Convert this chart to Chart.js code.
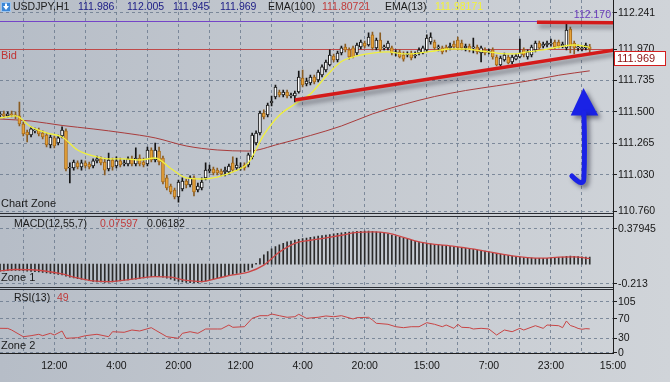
<!DOCTYPE html>
<html><head><meta charset="utf-8">
<script src="https://cdn.jsdelivr.net/npm/chart.js@4.4.1/dist/chart.umd.min.js"></script>
<style>
html,body{margin:0;padding:0;}
body{width:670px;height:382px;overflow:hidden;background:linear-gradient(to right,#b6bdc7 0%,#c3c8cf 45%,#d0d4d9 100%);}
#c{display:block;}
</style></head><body>
<canvas id="c" width="670" height="382"></canvas>
<script>
// ---------- DATA (USDJPY H1) ----------
const openP = [
111.477,111.485,111.470,111.485,111.477,111.470,111.410,111.350,111.328,111.358,
111.365,111.343,111.328,111.253,111.306,111.268,111.320,111.358,111.081,111.081,
111.119,111.089,111.119,111.111,111.096,111.134,111.149,111.126,111.074,111.141,
111.096,111.134,111.111,111.111,111.149,111.111,111.156,111.126,111.111,111.216,
111.141,111.208,111.156,111.007,110.947,110.917,110.865,110.925,110.984,110.954,
111.007,110.917,110.932,111.007,111.059,111.074,111.066,111.059,111.052,111.052,
111.119,111.081,111.081,111.104,111.104,111.164,111.268,111.343,111.492,111.477,
111.567,111.612,111.649,111.627,111.649,111.619,111.619,111.649,111.753,111.709,
111.716,111.761,111.739,111.776,111.813,111.851,111.918,111.888,111.940,111.985,
111.963,111.978,111.940,111.985,112.015,112.000,112.075,111.978,112.037,111.978,
111.978,111.978,111.940,111.948,111.925,111.925,111.940,111.918,111.940,111.940,
111.963,112.022,112.022,111.978,111.978,111.985,111.978,112.007,112.037,112.015,
111.978,111.992,111.978,111.985,111.940,111.963,111.948,111.963,111.910,111.851,
111.888,111.910,111.873,111.895,111.910,111.963,111.910,111.925,111.963,112.015,
111.992,112.000,112.007,112.022,112.022,111.992,111.978,112.119,112.015,111.978,
111.970,111.978,111.986];
const highP = [
111.500,111.507,111.500,111.507,111.500,111.574,111.425,111.365,111.388,111.380,
111.380,111.358,111.343,111.328,111.320,111.328,111.388,111.373,111.119,111.141,
111.134,111.141,111.134,111.126,111.149,111.171,111.164,111.156,111.193,111.156,
111.164,111.156,111.141,111.164,111.171,111.231,111.179,111.156,111.238,111.231,
111.268,111.238,111.171,111.029,110.962,110.932,110.992,111.007,110.999,111.022,
111.022,110.969,111.007,111.119,111.104,111.089,111.081,111.074,111.089,111.111,
111.164,111.156,111.119,111.119,111.193,111.343,111.358,111.507,111.515,111.567,
111.619,111.701,111.664,111.664,111.664,111.641,111.656,111.806,111.813,111.753,
111.776,111.776,111.813,111.851,111.888,111.963,111.933,111.955,111.992,112.007,
111.978,111.992,112.015,112.037,112.030,112.090,112.097,112.052,112.090,112.000,
112.030,111.992,111.963,111.963,111.948,111.948,111.955,111.948,111.978,111.992,
112.075,112.090,112.037,112.000,111.992,112.000,112.015,112.030,112.060,112.037,
112.007,112.007,112.052,112.000,111.992,111.978,111.970,111.978,111.925,111.918,
111.940,111.925,111.925,111.933,112.045,111.978,111.963,112.000,112.030,112.030,
112.022,112.030,112.045,112.037,112.037,112.022,112.170,112.134,112.030,112.000,
111.992,112.015,112.005];
const lowP = [
111.462,111.455,111.462,111.462,111.447,111.395,111.320,111.276,111.313,111.343,
111.320,111.298,111.238,111.231,111.231,111.253,111.306,111.059,110.969,111.066,
111.074,111.066,111.081,111.074,111.081,111.119,111.104,111.029,111.059,111.066,
111.081,111.089,111.096,111.096,111.096,111.096,111.096,111.089,111.096,111.126,
111.126,111.104,110.962,110.917,110.887,110.850,110.827,110.910,110.932,110.940,
110.872,110.902,110.917,110.992,111.044,111.029,111.029,111.022,111.022,111.037,
111.052,111.066,111.066,111.066,111.089,111.149,111.253,111.328,111.447,111.462,
111.544,111.597,111.612,111.612,111.604,111.604,111.574,111.641,111.686,111.694,
111.701,111.709,111.724,111.761,111.798,111.843,111.873,111.873,111.925,111.948,
111.895,111.903,111.925,111.970,111.978,111.992,111.963,111.963,111.948,111.963,
111.963,111.925,111.918,111.903,111.880,111.910,111.888,111.903,111.925,111.933,
111.948,112.007,111.963,111.955,111.933,111.948,111.963,111.970,111.963,111.963,
111.955,111.948,111.940,111.933,111.873,111.925,111.933,111.895,111.843,111.843,
111.880,111.858,111.858,111.888,111.903,111.910,111.895,111.910,111.948,111.963,
111.978,111.985,111.992,111.970,111.978,111.978,111.963,111.940,111.933,111.955,
111.955,111.963,111.945];
const closeP = [
111.485,111.470,111.485,111.477,111.470,111.410,111.335,111.328,111.373,111.365,
111.335,111.313,111.253,111.313,111.246,111.306,111.365,111.074,111.089,111.126,
111.089,111.119,111.096,111.089,111.134,111.149,111.119,111.066,111.141,111.089,
111.134,111.104,111.119,111.149,111.111,111.156,111.111,111.104,111.216,111.141,
111.216,111.126,110.977,110.932,110.902,110.865,110.977,110.984,110.954,111.007,
110.902,110.947,110.977,111.066,111.074,111.044,111.044,111.037,111.066,111.096,
111.066,111.104,111.089,111.081,111.179,111.328,111.343,111.492,111.462,111.552,
111.582,111.686,111.627,111.649,111.619,111.627,111.641,111.761,111.701,111.731,
111.761,111.724,111.798,111.836,111.873,111.925,111.888,111.940,111.978,111.963,
111.910,111.910,112.000,112.022,111.992,112.060,111.978,112.037,111.963,111.985,
112.015,111.940,111.948,111.910,111.895,111.933,111.903,111.925,111.963,111.978,
112.052,112.060,111.978,111.985,111.948,111.963,111.992,111.985,111.978,111.978,
111.992,111.963,111.985,111.948,111.978,111.940,111.955,111.910,111.851,111.903,
111.925,111.866,111.910,111.918,111.940,111.925,111.948,111.985,112.015,111.978,
112.007,112.015,112.015,111.985,111.992,112.007,112.112,111.992,111.978,111.985,
111.978,112.000,111.969];

const ema13Idx = [0,4,8,12,16,20,24,28,32,36,40,44,48,52,56,60,64,68,72,76,80,84,88,92,96,100,104,108,112,116,120,124,128,132,136,140,144,148,152];
const ema13 = [111.455,111.470,111.388,111.343,111.313,111.216,111.171,111.149,111.149,111.141,111.156,111.078,111.007,110.999,111.014,111.052,111.119,111.328,111.475,111.559,111.634,111.765,111.877,111.918,111.940,111.948,111.933,111.940,111.955,111.970,111.970,111.955,111.940,111.933,111.948,111.963,111.985,112.000,111.982];

const ema100Idx = [0,8,16,24,32,40,48,56,64,72,80,88,96,104,112,120,128,136,144,152];
const ema100 = [111.447,111.432,111.399,111.373,111.343,111.306,111.246,111.216,111.208,111.261,111.324,111.395,111.485,111.556,111.615,111.660,111.695,111.731,111.774,111.807];

const macdMain = [
-0.075,-0.072,-0.070,-0.068,-0.066,-0.066,-0.070,-0.075,-0.078,-0.080,
-0.083,-0.088,-0.095,-0.100,-0.105,-0.110,-0.115,-0.130,-0.140,-0.148,
-0.155,-0.162,-0.170,-0.178,-0.185,-0.190,-0.192,-0.195,-0.193,-0.190,
-0.186,-0.180,-0.175,-0.170,-0.165,-0.160,-0.155,-0.148,-0.140,-0.135,
-0.130,-0.130,-0.140,-0.150,-0.160,-0.175,-0.185,-0.190,-0.195,-0.200,
-0.200,-0.198,-0.190,-0.180,-0.170,-0.160,-0.150,-0.140,-0.130,-0.120,
-0.110,-0.100,-0.090,-0.080,-0.065,-0.035,0.010,0.060,0.100,0.135,
0.165,0.190,0.210,0.225,0.240,0.250,0.260,0.268,0.275,0.282,
0.290,0.296,0.302,0.308,0.314,0.320,0.326,0.332,0.338,0.343,
0.347,0.350,0.353,0.355,0.356,0.356,0.354,0.350,0.344,0.336,
0.326,0.314,0.302,0.290,0.280,0.270,0.258,0.247,0.238,0.232,
0.226,0.220,0.214,0.208,0.203,0.198,0.193,0.188,0.182,0.176,
0.170,0.165,0.160,0.153,0.146,0.140,0.133,0.126,0.118,0.110,
0.102,0.095,0.088,0.082,0.077,0.072,0.068,0.065,0.063,0.062,
0.062,0.063,0.065,0.068,0.072,0.076,0.085,0.088,0.085,0.082,
0.080,0.078,0.076];
const signalIdx = [0,4,8,12,16,20,24,28,32,36,40,44,48,52,56,60,64,68,72,76,80,84,88,92,96,100,104,108,112,116,120,124,128,132,136,140,144,148,152];
const macdSignal = [-0.073,-0.057,-0.060,-0.076,-0.105,-0.148,-0.180,-0.188,-0.172,-0.150,-0.133,-0.140,-0.175,-0.187,-0.152,-0.116,-0.085,-0.010,0.130,0.225,0.258,0.284,0.312,0.343,0.349,0.335,0.290,0.240,0.214,0.198,0.175,0.149,0.118,0.090,0.071,0.065,0.076,0.079,0.062];

const rsiIdx = [0,2,3,6,8,10,11,13,14,16,17,20,22,25,28,29,32,34,36,39,40,43,46,47,49,51,53,56,57,59,60,63,65,67,69,70,72,74,76,77,79,82,84,86,88,91,92,95,96,97,100,102,104,106,108,110,112,114,115,117,118,119,121,122,124,126,128,130,132,134,135,138,140,141,144,145,146,147,148,149,150,151,152];
const rsiVal = [50.2,50,46.7,32.9,35,37.9,35,39.9,36.4,44.7,29.6,30.9,35,37.9,32.9,43.2,42,46.7,44.7,51.5,46.7,32.9,29.6,39.9,43.2,39.9,48.8,48.8,48.8,57,52.3,53.5,70.8,76.2,76.2,79.7,76.2,72.9,74.1,79.1,70.8,72.9,75.6,74.1,76.2,69.4,72.1,72.9,67.3,60.5,58.5,53.5,51.5,53.5,53.5,61.8,58.5,53.5,57,50.2,58.5,52.3,51.5,48.8,50.2,48.8,36.4,46.7,43.2,50.2,46.7,55.6,50.2,57,55.6,51.5,65.3,56,53.5,50,48.2,49.5,49];

const gridIdx = [6,14,22,30,38,46,54,62,70,78,86,94,102,110,118,126,134,142,150,158];
const timeTickIdx = [14,30,46,62,78,94,110,126,142,158];
const timeLabels = ['12:00','4:00','20:00','12:00','4:00','20:00','15:00','7:00','23:00','15:00'];
const priceTicks = [110.760,111.030,111.265,111.500,111.735,111.970,112.241];
const macdTicks = [-0.213,0.37945];
const macdTickLabels = ['-0.213','0.37945'];
const rsiTicks = [0,30,70,105];

// drawn objects (in index / price units)
const trendLow = [{x:76,y:111.589},{x:158.5,y:111.963}];
const trendTop = [{x:138.4,y:112.170},{x:158.5,y:112.166}];
const bidPrice = 111.969;
const highMark = 112.178;
const arrowHead = [{x:150.4,y:111.679},{x:147.1,y:111.474},{x:154.2,y:111.474}];
const arrowShaft = [{x:150.5,y:111.490},{x:150.8,y:111.216},{x:150.5,y:111.007},{x:150.5,y:110.930},{x:147.4,y:111.022}];

// ---------- CHART ----------
const FONT = "'Liberation Sans', Arial, sans-serif";
Chart.defaults.font.family = FONT;
Chart.defaults.font.size = 10.5;
Chart.defaults.color = '#161616';
const GRID = 'rgba(105,120,140,0.8)';
const AX = '#1e1e1e';
const bull = i => closeP[i] >= openP[i];
const noPad = s => { s.paddingTop = 0; s.paddingBottom = 0; s.paddingLeft = 0; s.paddingRight = 0; };

function yAxis(stackWeight, weight, min, max, ticks, cb) {
  return {
    type:'linear', position:'right', stack:'panes', stackWeight, weight, min, max,
    afterBuildTicks: s => { s.ticks = ticks.map(v => ({value:v})); },
    afterFit: s => { s.width = 57; noPad(s); },
    ticks:{autoSkip:false, padding:1, callback:cb},
    grid:{color:GRID, drawTicks:true, tickLength:4, tickColor:AX, tickWidth:1, tickBorderDash:[]},
    border:{display:true, color:AX, width:1, dash:[3,3]}
  };
}

const shadowPlugin = {
  id:'shadow',
  beforeDatasetDraw(chart, args) {
    const ds = chart.data.datasets[args.index];
    if (ds.shadow) {
      const c = chart.ctx; c.save();
      c.shadowColor = 'rgba(40,40,50,0.45)'; c.shadowBlur = 4; c.shadowOffsetX = 2; c.shadowOffsetY = 4;
    }
  },
  afterDatasetDraw(chart, args) {
    if (chart.data.datasets[args.index].shadow) chart.ctx.restore();
  }
};

function T(ctx, s, x, y, color, size) {
  ctx.font = (size || 10.5) + 'px ' + FONT;
  ctx.fillStyle = color; ctx.textAlign = 'left'; ctx.textBaseline = 'middle';
  ctx.fillText(s, x, y);
}

const decor = {
  id:'decor',
  beforeDatasetsDraw(chart) {
    const {ctx, scales} = chart;
    const ys = scales.y;
    ctx.save();
    ctx.clearRect(0, 213, 612.5, 4);
    ctx.clearRect(0, 287, 612.5, 3);
    ctx.fillStyle = '#2a2d33';
    ctx.fillRect(0, 213, 613, 1);
    ctx.fillRect(0, 216, 613, 1);
    ctx.fillRect(0, 287, 613, 1);
    ctx.fillRect(0, 289, 613, 1);
    let yb = Math.round(ys.getPixelForValue(bidPrice)) + 0.5;
    ctx.strokeStyle = '#c04a4a'; ctx.lineWidth = 1;
    ctx.beginPath(); ctx.moveTo(0, yb); ctx.lineTo(613, yb); ctx.stroke();
    let yh = Math.round(ys.getPixelForValue(highMark)) + 0.5;
    ctx.strokeStyle = '#7445c8';
    ctx.beginPath(); ctx.moveTo(0, yh); ctx.lineTo(613, yh); ctx.stroke();
    ctx.restore();
  },
  afterDraw(chart) {
    const {ctx, scales} = chart;
    const xs = scales.x, ys = scales.y;
    const P = p => [xs.getPixelForValue(p.x), ys.getPixelForValue(p.y)];
    ctx.save();
    ctx.fillStyle = '#3b86d6'; ctx.fillRect(1, 2, 10, 10);
    ctx.strokeStyle = '#9cc4ee'; ctx.lineWidth = 1; ctx.strokeRect(1.5, 2.5, 9, 9);
    ctx.fillStyle = '#ffffff';
    ctx.beginPath(); ctx.moveTo(3, 6); ctx.lineTo(9, 6); ctx.lineTo(6, 10); ctx.closePath(); ctx.fill();
    ctx.fillRect(5, 3.5, 2, 3);
    T(ctx, 'USDJPY,H1', 13, 7, '#1a1a1a');
    T(ctx, '111.986', 78, 7, '#1c1c86');
    T(ctx, '112.005', 127, 7, '#1c1c86');
    T(ctx, '111.945', 173, 7, '#1c1c86');
    T(ctx, '111.969', 220, 7, '#1c1c86');
    T(ctx, 'EMA(100)', 268, 7, '#1a1a1a');
    T(ctx, '111.80721', 322, 7, '#c03a3a');
    T(ctx, 'EMA(13)', 385, 7, '#1a1a1a');
    T(ctx, '111.98171', 435, 7, '#f2f23a');
    ctx.font = '10.5px ' + FONT; ctx.fillStyle = '#6a3bbd'; ctx.textAlign = 'right'; ctx.textBaseline = 'middle';
    ctx.fillText('112.170', 611, 15);
    T(ctx, 'Bid', 1, 56, '#c03434', 11);
    T(ctx, 'Chart Zone', 1, 204, '#1a1a1a', 11);
    T(ctx, 'MACD(12,55,7)', 14, 224, '#1a1a1a', 10.5);
    T(ctx, '0.07597', 100, 224, '#c03a3a', 10.5);
    T(ctx, '0.06182', 147, 224, '#1a1a1a', 10.5);
    T(ctx, 'Zone 1', 1, 278, '#1a1a1a', 11);
    T(ctx, 'RSI(13)', 14, 298, '#1a1a1a', 10.5);
    T(ctx, '49', 57, 298, '#c03a3a', 10.5);
    T(ctx, 'Zone 2', 1, 346, '#1a1a1a', 11);
    ctx.fillStyle = '#ffffff'; ctx.fillRect(614, 51, 52, 15);
    ctx.strokeStyle = '#d41e1e'; ctx.lineWidth = 1; ctx.strokeRect(614.5, 51.5, 51, 14);
    T(ctx, '111.969', 617, 59, '#8c1010', 11);
    ctx.shadowColor = 'rgba(30,30,50,0.5)'; ctx.shadowBlur = 4; ctx.shadowOffsetX = 3; ctx.shadowOffsetY = 3;
    ctx.fillStyle = '#1a22e6'; ctx.strokeStyle = '#1a22e6';
    const h = arrowHead.map(P);
    ctx.beginPath(); ctx.moveTo(h[0][0], h[0][1]); ctx.lineTo(h[1][0], h[1][1]); ctx.lineTo(h[2][0], h[2][1]); ctx.closePath(); ctx.fill();
    const s = arrowShaft.map(P);
    ctx.lineWidth = 5; ctx.lineCap = 'round'; ctx.lineJoin = 'round';
    ctx.beginPath(); ctx.moveTo(s[0][0], s[0][1]);
    ctx.quadraticCurveTo(s[1][0], s[1][1], s[2][0], s[2][1]);
    ctx.quadraticCurveTo(s[3][0], s[3][1], s[4][0], s[4][1]);
    ctx.stroke();
    ctx.restore();
  }
};

new Chart(document.getElementById('c'), {
  type:'bar',
  data:{datasets:[
    {type:'line', yAxisID:'y', data:ema100Idx.map((x,k)=>({x, y:ema100[k]})), borderColor:'#a83c3c', borderWidth:1, pointRadius:0, cubicInterpolationMode:'monotone', order:7},
    {type:'bar', yAxisID:'y', data:closeP.map((c,i)=>({x:i, y:[lowP[i], highP[i]]})), barThickness:1, grouped:false,
      backgroundColor: c => bull(c.dataIndex) ? '#141414' : '#8a5c22', order:6},
    {type:'bar', yAxisID:'y', data:closeP.map((c,i)=>({x:i, y:[openP[i], closeP[i]]})), barThickness:3, grouped:false,
      borderWidth:1, borderSkipped:false, minBarLength:1,
      backgroundColor: c => bull(c.dataIndex) ? '#ffffff' : '#e6a33a',
      borderColor: c => bull(c.dataIndex) ? '#151515' : '#a86c1c', order:5},
    {type:'line', yAxisID:'y', data:ema13Idx.map((x,k)=>({x, y:ema13[k]})), borderColor:'#f0f03c', borderWidth:1.3, pointRadius:0, cubicInterpolationMode:'monotone', order:3},
    {type:'line', yAxisID:'y', data:trendLow, borderColor:'#d41a1a', borderWidth:3.5, pointRadius:0, shadow:true, order:1},
    {type:'line', yAxisID:'y', data:trendTop, borderColor:'#d41a1a', borderWidth:3.5, pointRadius:0, shadow:true, order:1},
    {type:'bar', yAxisID:'macd', data:macdMain.map((v,i)=>({x:i, y:v})), barThickness:1, grouped:false, backgroundColor:'#2a2a2a', order:6},
    {type:'line', yAxisID:'macd', data:signalIdx.map((x,k)=>({x, y:macdSignal[k]})), borderColor:'#cc4646', borderWidth:1.3, pointRadius:0, cubicInterpolationMode:'monotone', order:2},
    {type:'line', yAxisID:'rsi', data:rsiIdx.map((x,k)=>({x, y:rsiVal[k]})), borderColor:'#c84444', borderWidth:1, pointRadius:0, tension:0, order:2}
  ]},
  options:{
    responsive:false, animation:false, devicePixelRatio:1, events:[],
    layout:{padding:0},
    plugins:{legend:{display:false}, tooltip:{enabled:false}},
    scales:{
      x:{type:'linear', min:0, max:158, offset:false, position:'bottom',
        afterBuildTicks: s => { s.ticks = gridIdx.map(v => ({value:v})); },
        afterFit: s => { s.height = 29; noPad(s); },
        ticks:{autoSkip:false, maxRotation:0, minRotation:0, padding:7,
          callback: v => { const k = timeTickIdx.indexOf(v); return k < 0 ? '' : timeLabels[k]; }},
        grid:{color:GRID, drawTicks:false, offset:false},
        border:{display:true, color:AX, width:1, dash:[3,3]}
      },
      y: yAxis(214.5, 1, 110.734, 112.336, priceTicks, v => v.toFixed(3)),
      macd: yAxis(73.5, 2, -0.2564, 0.5354, macdTicks, v => macdTickLabels[macdTicks.indexOf(v)]),
      rsi: yAxis(65, 3, -0.62, 133.2, rsiTicks, v => String(v))
    }
  },
  plugins:[shadowPlugin, decor]
});
</script>
</body></html>
